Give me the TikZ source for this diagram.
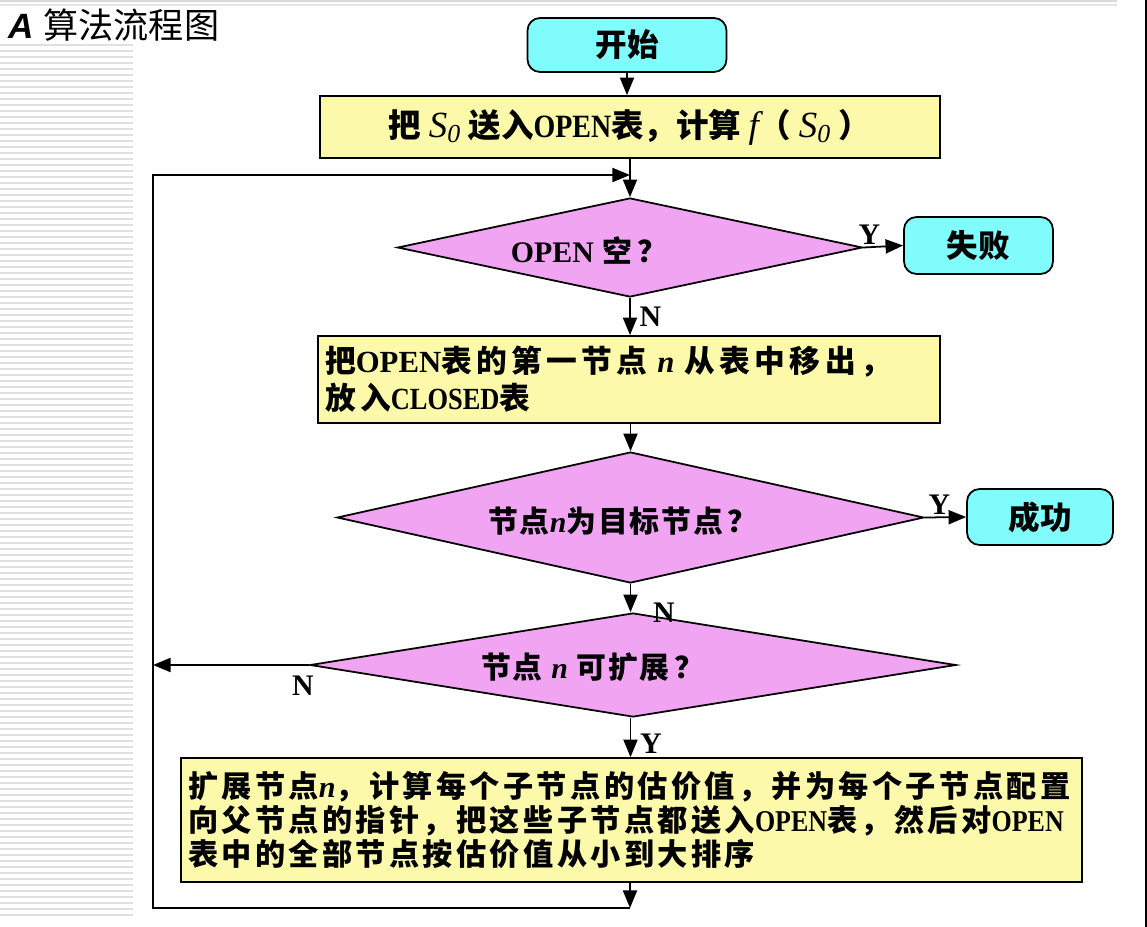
\documentclass[tikz,border=0pt]{standalone}
\usepackage{fontspec}
\setmainfont{Noto Sans CJK SC}
\newfontfamily\lat{Liberation Serif}
\newfontfamily\latc{Liberation Serif}[FakeStretch=0.86]
\newfontfamily\arial{Liberation Sans}
\usetikzlibrary{arrows.meta,shapes.geometric}

\definecolor{qing}{RGB}{128,252,252}
\definecolor{huang}{RGB}{252,250,170}
\definecolor{fen}{RGB}{240,164,242}

\begin{document}
\begin{tikzpicture}[x=0.02cm,y=-0.02cm,
    zd/.style={draw, line width=1pt, rounded corners=2.5mm, fill=qing, font=\fontsize{18}{20}\selectfont\bfseries},
    kuang/.style={draw, line width=1pt, fill=huang, inner xsep=0.14cm},
    ling/.style={draw, diamond, line width=1pt, fill=fen, inner sep=0pt},
    wz/.style={font=\fontsize{17}{20}\selectfont\bfseries\addfontfeature{LetterSpace=6}},
    yn/.style={font=\lat\fontsize{17}{17}\selectfont\bfseries, inner sep=1pt},
    jt/.style={-{Triangle[length=10pt,width=8pt]}, line width=1pt}]
    \useasboundingbox (0,0) rectangle (1147,927);
    % 背景条纹
    \foreach \y in {45,51,...,915}
        \draw[black!12, line width=0.7pt] (0,\y) -- (133,\y);
    \draw[black!15, line width=0.8pt] (0,1) -- (1117,1);
    \draw[black!10, line width=0.8pt] (0,5) -- (1117,5);
    \draw[black, line width=1.2pt] (1146,0) -- (1146,927);
    % 标题
    \node[anchor=west, inner sep=0pt] (biaoti) at (8,25)
        {\arial\fontsize{20}{22}\selectfont\bfseries\itshape A\ {\rmfamily\mdseries\upshape 算法流程图}};

    % 开始
    \node[zd, minimum width=3.98cm, minimum height=1.08cm] (kaishi) at (627,45) {开始};
    \node[kuang, minimum width=12.4cm, minimum height=1.24cm, font=\fontsize{18.5}{20}\selectfont\bfseries] (s0) at (630,127)
        {把 {\lat\mdseries\itshape\fontsize{21}{21}\selectfont S\textsubscript{0}} 送入{\latc OPEN}表，计算 {\lat\mdseries\itshape\fontsize{21}{21}\selectfont f}（ {\lat\mdseries\itshape\fontsize{21}{21}\selectfont S\textsubscript{0}} ）};

    % 判断 OPEN
    \node[ling, minimum width=9.3cm, minimum height=1.98cm] (kong) at (630,247.5) {};
    \node[wz] (kongt) at (589,250) {{\lat OPEN} 空\,？};
    \node[zd, minimum width=2.98cm, minimum height=1.14cm] (shibai) at (978.5,245.5) {失败};

    % 移出第一节点
    \node[kuang, minimum width=12.44cm, minimum height=1.74cm, text width=12.16cm, align=left,
        font=\fontsize{17.5}{21}\selectfont\bfseries\addfontfeature{LetterSpace=14}] (yichu) at (629,379.5)
        {把{\lat OPEN}表的第一节点 {\lat\itshape n} 从表中移出，\\放入{\latc CLOSED}表};

    % 目标节点
    \node[ling, minimum width=11.74cm, minimum height=2.62cm] (mubiao) at (630.5,517.5) {};
    \node[wz] (mubiaot) at (623,521) {节点{\lat\itshape n}为目标节点\,？};
    \node[zd, minimum width=2.92cm, minimum height=1.12cm] (chenggong) at (1040,517) {成功};

    % 可扩展
    \node[ling, minimum width=12.92cm, minimum height=2.08cm] (kuozhan) at (633,665) {};
    \node[wz] (kuozhant) at (593,667) {节点 {\lat\itshape n} 可扩展\,？};

    % 扩展节点
    \node[kuang, minimum width=18.02cm, minimum height=2.48cm, text width=17.74cm, align=left,
        font=\fontsize{17.2}{19.3}\selectfont\bfseries\addfontfeature{LetterSpace=11}] (paixu) at (631.5,820)
        {扩展节点{\lat\itshape n}，计算每个子节点的估价值，并为每个子节点配置\\
         向父节点的指针，把这些子节点都送入{\latc OPEN}表，然后对{\latc OPEN}\\
         表中的全部节点按估价值从小到大排序};

    % 连线
    \coordinate (xia) at (630,908);
    \coordinate (zuo) at (153,908);
    \coordinate (ru) at (630,175);
    \draw[jt] (kaishi.south) -- (kaishi.south |- s0.north);
    \draw[jt] (s0.south -| kong.north) -- (kong.north);
    \draw[jt] (kong.east) -- node[yn, pos=0.15, above] (y1) {Y} (shibai.west);
    \draw[jt] (kong.south) -- node[yn, right, xshift=4pt] (n1) {N} (yichu.north -| kong.south);
    \draw[jt] (yichu.south -| mubiao.north) -- (mubiao.north);
    \draw[jt] (mubiao.east) -- node[yn, pos=0.35, above] (y2) {Y} (chenggong.west);
    \draw[jt] (mubiao.south) -- (mubiao.south |- kuozhan.north);
    \node[yn] (n2) at (664,613) {N};
    \draw[jt] (kuozhan.west) -- (kuozhan.west -| zuo);
    \node[yn] (n3) at (303,686) {N};
    \draw[jt] (kuozhan.south -| mubiao.south) -- node[yn, right, xshift=4pt, pos=0.65] (y3) {Y} (paixu.north -| mubiao.south);
    \draw[jt] (paixu.south -| xia) -- (xia);
    \draw[jt] (xia) -- (zuo) -- (zuo |- ru) -- (ru);
\end{tikzpicture}
\end{document}
